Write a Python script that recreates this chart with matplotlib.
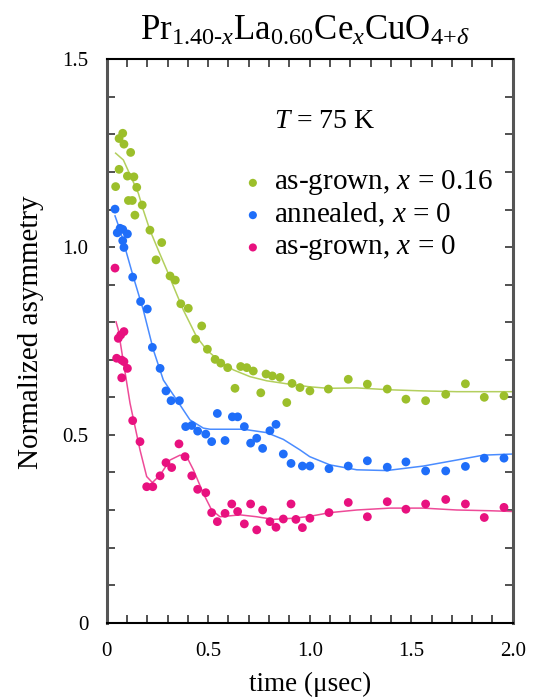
import matplotlib
matplotlib.use("Agg")
import matplotlib.pyplot as plt
from matplotlib.ticker import MultipleLocator, FixedLocator

plt.rcParams["font.family"] = ["Liberation Serif", "DejaVu Serif"]
plt.rcParams["mathtext.fontset"] = "custom"
plt.rcParams["mathtext.rm"] = "Liberation Serif"
plt.rcParams["mathtext.it"] = "Liberation Serif:italic"

# data points (time in usec, normalized asymmetry)
green_t = [0.044, 0.061, 0.079, 0.085, 0.118, 0.061, 0.102, 0.134, 0.148, 0.107, 0.126,
           0.175, 0.139, 0.213, 0.271, 0.243, 0.312, 0.338, 0.365, 0.402, 0.468, 0.438,
           0.496, 0.534, 0.562, 0.596, 0.632, 0.660, 0.690, 0.722, 0.759, 0.785, 0.816,
           0.854, 0.887, 0.913, 0.952, 1.001, 1.092, 1.190, 1.284, 1.382, 1.474, 1.571,
           1.670, 1.767, 1.860, 1.957]
green_a = [1.161, 1.289, 1.303, 1.274, 1.252, 1.207, 1.189, 1.187, 1.159, 1.124, 1.124,
           1.112, 1.085, 1.045, 1.012, 0.966, 0.923, 0.912, 0.849, 0.837, 0.790, 0.755,
           0.728, 0.701, 0.691, 0.679, 0.624, 0.682, 0.679, 0.670, 0.612, 0.662, 0.657,
           0.653, 0.586, 0.637, 0.626, 0.617, 0.622, 0.648, 0.635, 0.622, 0.595, 0.591,
           0.608, 0.636, 0.600, 0.604]

blue_t = [0.041, 0.052, 0.066, 0.079, 0.102, 0.079, 0.085, 0.128, 0.167, 0.200, 0.225,
          0.263, 0.292, 0.317, 0.358, 0.389, 0.419, 0.448, 0.488, 0.517, 0.545, 0.583,
          0.619, 0.645, 0.678, 0.709, 0.739, 0.768, 0.804, 0.834, 0.870, 0.908, 0.964,
          1.001, 1.095, 1.190, 1.284, 1.382, 1.474, 1.571, 1.670, 1.767, 1.860, 1.957]
blue_a = [1.101, 1.038, 1.050, 1.047, 1.035, 1.017, 0.999, 0.920, 0.855, 0.835, 0.733,
          0.677, 0.617, 0.591, 0.591, 0.522, 0.525, 0.510, 0.502, 0.482, 0.557, 0.485,
          0.548, 0.548, 0.522, 0.478, 0.491, 0.464, 0.511, 0.528, 0.449, 0.424, 0.417,
          0.417, 0.410, 0.417, 0.431, 0.414, 0.428, 0.404, 0.404, 0.416, 0.438, 0.438]

pink_t = [0.041, 0.057, 0.069, 0.085, 0.049, 0.074, 0.085, 0.102, 0.074, 0.128, 0.164,
          0.197, 0.227, 0.263, 0.292, 0.320, 0.356, 0.386, 0.419, 0.448, 0.488, 0.517,
          0.545, 0.583, 0.616, 0.645, 0.678, 0.709, 0.739, 0.768, 0.804, 0.834, 0.870,
          0.908, 0.932, 0.964, 1.001, 1.095, 1.190, 1.284, 1.382, 1.474, 1.571, 1.670,
          1.767, 1.860, 1.957]
pink_a = [0.944, 0.757, 0.766, 0.775, 0.704, 0.699, 0.695, 0.677, 0.652, 0.538, 0.482,
          0.362, 0.362, 0.391, 0.426, 0.413, 0.476, 0.442, 0.391, 0.355, 0.346, 0.293,
          0.269, 0.291, 0.316, 0.296, 0.263, 0.316, 0.247, 0.300, 0.269, 0.254, 0.276,
          0.316, 0.275, 0.253, 0.278, 0.293, 0.320, 0.282, 0.322, 0.302, 0.316, 0.328,
          0.316, 0.280, 0.307]

# fitted curves
green_fit_t = [0.044, 0.082, 0.123, 0.156, 0.180, 0.213, 0.254, 0.296, 0.336, 0.377,
               0.443, 0.493, 0.558, 0.624, 0.706, 0.788, 0.887, 1.00, 1.09, 1.232,
               1.395, 1.56, 1.724, 2.0]
green_fit_a = [1.250, 1.232, 1.183, 1.143, 1.099, 1.045, 0.992, 0.939, 0.886, 0.833,
               0.761, 0.726, 0.695, 0.673, 0.655, 0.644, 0.636, 0.628, 0.624, 0.625,
               0.620, 0.617, 0.615, 0.615]

blue_fit_t = [0.041, 0.066, 0.131, 0.180, 0.230, 0.279, 0.345, 0.410, 0.476, 0.509,
              0.600, 0.673, 0.788, 0.870, 0.952, 1.00, 1.10, 1.232, 1.379, 1.56,
              1.724, 1.855, 2.0]
blue_fit_a = [1.083, 1.045, 0.921, 0.833, 0.726, 0.646, 0.593, 0.540, 0.518, 0.515,
              0.515, 0.515, 0.506, 0.488, 0.460, 0.442, 0.420, 0.407, 0.405, 0.417,
              0.433, 0.446, 0.449]

pink_fit_t = [0.046, 0.057, 0.082, 0.115, 0.164, 0.197, 0.225, 0.263, 0.312, 0.361,
              0.394, 0.427, 0.476, 0.517, 0.558, 0.657, 0.739, 0.821, 0.919, 1.00,
              1.10, 1.232, 1.395, 1.56, 1.724, 1.888, 2.0]
pink_fit_a = [0.801, 0.780, 0.695, 0.584, 0.460, 0.389, 0.373, 0.393, 0.433, 0.446,
              0.442, 0.407, 0.344, 0.300, 0.282, 0.287, 0.282, 0.275, 0.278, 0.283,
              0.293, 0.300, 0.305, 0.305, 0.300, 0.298, 0.296]

green = "#9cbf2b"
blue = "#1f6ef9"
pink = "#e8117f"

fig = plt.figure(figsize=(5.48, 6.99), dpi=100)
ax = fig.add_axes([0.1947, 0.1092, 0.7409, 0.806])

ax.plot(green_fit_t, green_fit_a, color="#b3cf5e", lw=1.1)
ax.plot(blue_fit_t, blue_fit_a, color="#4a8cff", lw=1.1)
ax.plot(pink_fit_t, pink_fit_a, color="#ee4b98", lw=1.1)

ax.scatter(green_t, green_a, s=40, color=green, edgecolors="none", zorder=3)
ax.scatter(blue_t, blue_a, s=40, color=blue, edgecolors="none", zorder=3)
ax.scatter(pink_t, pink_a, s=40, color=pink, edgecolors="none", zorder=3)

ax.set_xlim(0, 2.0)
ax.set_ylim(0, 1.5)
ax.xaxis.set_major_locator(FixedLocator([0, 0.5, 1.0, 1.5, 2.0]))
ax.yaxis.set_major_locator(FixedLocator([0, 0.5, 1.0, 1.5]))
ax.xaxis.set_minor_locator(MultipleLocator(0.1))
ax.yaxis.set_minor_locator(MultipleLocator(0.1))
ax.set_xticklabels(["0", "0.5", "1.0", "1.5", "2.0"])
ax.set_yticklabels(["0", "0.5", "1.0", "1.5"])
ax.tick_params(which="both", direction="in", top=True, right=True, length=6,
               width=1.2, color="#333333", labelsize=15)
ax.tick_params(axis="x", pad=14)
ax.tick_params(axis="y", pad=13)

for side in ["left", "right"]:
    ax.spines[side].set_color("#555555")
    ax.spines[side].set_linewidth(2.2)
for side in ["top", "bottom"]:
    ax.spines[side].set_color("black")
    ax.spines[side].set_linewidth(1.5)

ax.set_xlabel("time (\u03bcsec)", fontsize=19.5, labelpad=8)
ax.set_ylabel("Normalized asymmetry", fontsize=21)
ax.yaxis.set_label_coords(-0.155, 0.515)

fig.text(0.557, 0.955,
         r"$\mathrm{Pr}_{1.40\text{-}x}\mathrm{La}_{0.60}\mathrm{Ce}_{x}\mathrm{CuO}_{4\text{+}\delta}$",
         fontsize=25, ha="center", va="center")

ax.text(0.824, 1.333, r"$T$ = 75 K", fontsize=20, ha="left", va="center")

labels = [r"as-grown, $x$ = 0.16", r"annealed, $x$ = 0", r"as-grown, $x$ = 0"]
colors = [green, blue, pink]
rows = [1.171, 1.085, 0.999]
for lab, c, yv in zip(labels, colors, rows):
    ax.scatter([0.72], [yv], s=34, color=c, edgecolors="none", zorder=3)
    ax.text(0.825, yv, lab, fontsize=21, ha="left", va="center")

fig.savefig("out.png", dpi=100)
